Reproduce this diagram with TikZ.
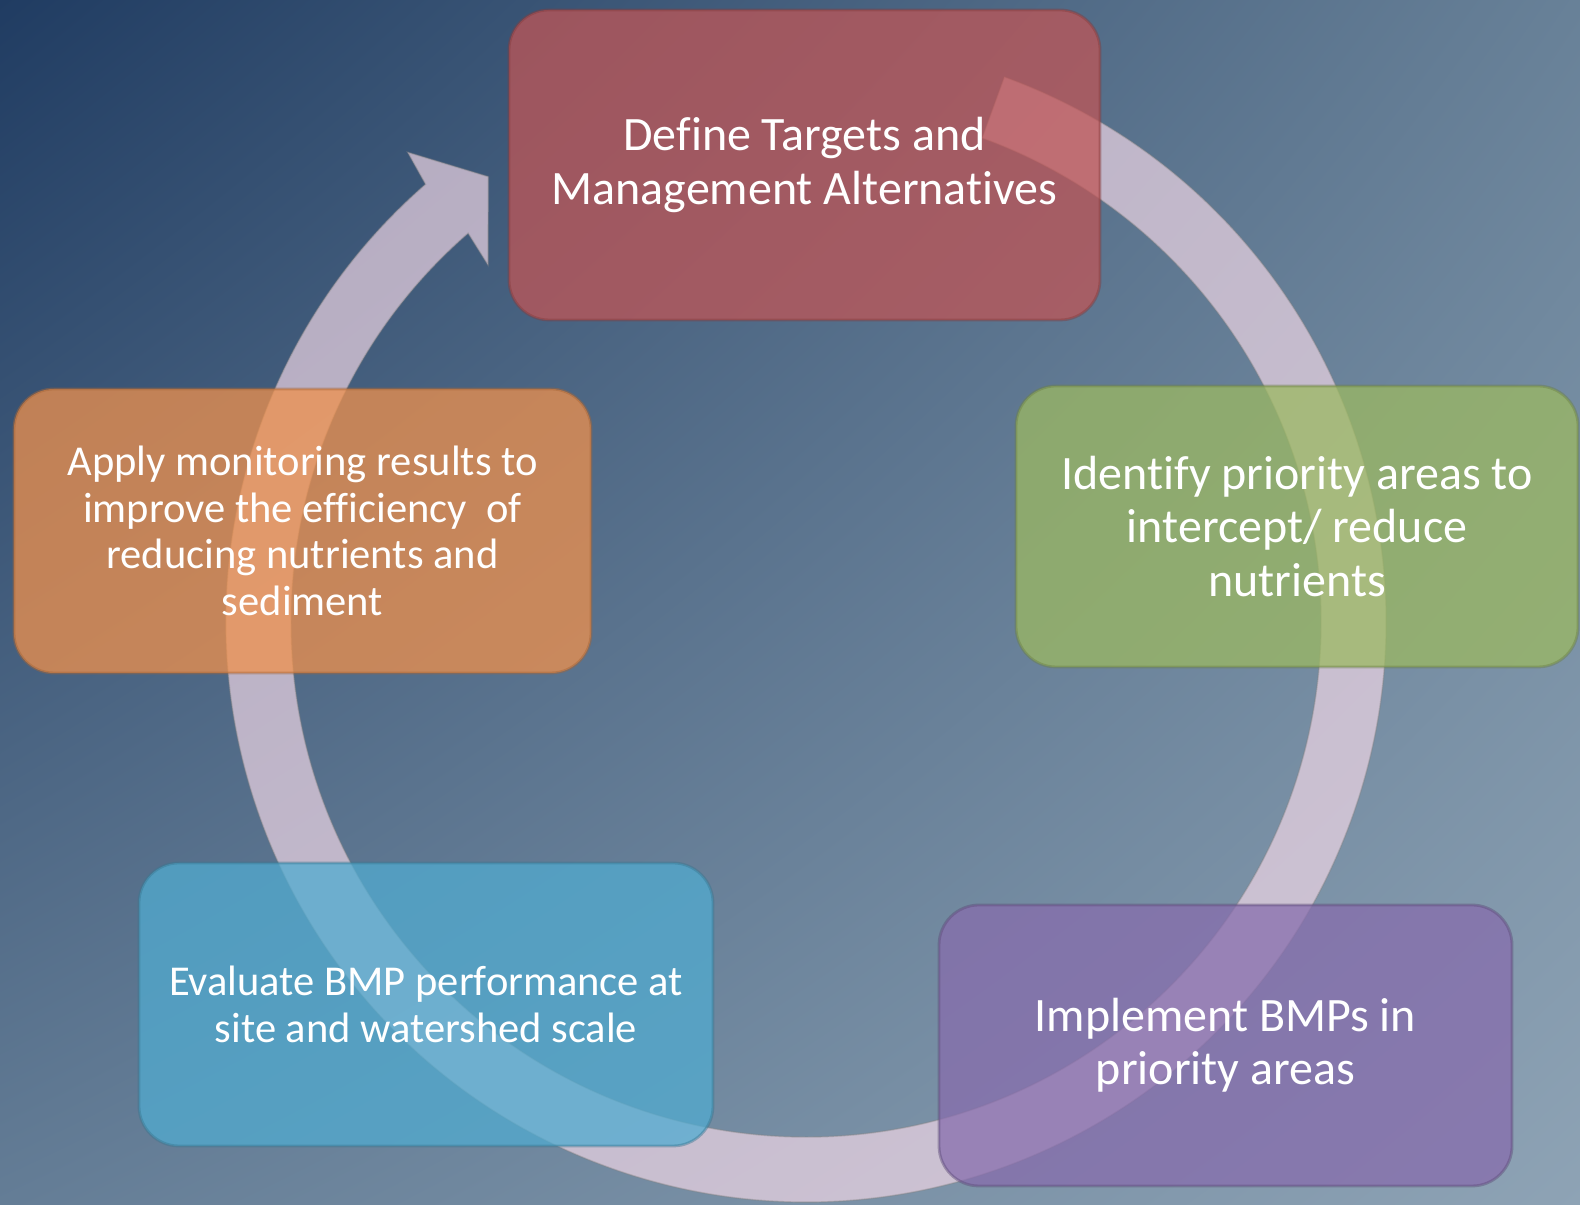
\documentclass[tikz,border=0pt]{standalone}
\usepackage{fontspec}
\setmainfont{Carlito}[Ligatures=NoCommon]
\usetikzlibrary{shadings}

\definecolor{bgtl}{RGB}{32,60,98}
\definecolor{bgtr}{RGB}{104,129,152}
\definecolor{bgbl}{RGB}{100,125,150}
\definecolor{bgbr}{RGB}{142,163,181}
\definecolor{ringc}{RGB}{242,216,231}
\definecolor{redbox}{RGB}{191,86,87}
\definecolor{greenbox}{RGB}{156,185,98}
\definecolor{orangebox}{RGB}{239,145,77}
\definecolor{bluebox}{RGB}{81,171,208}
\definecolor{purplebox}{RGB}{135,109,173}

\begin{document}
\begin{tikzpicture}[
    stage/.style={rounded corners=0.4cm, fill opacity=0.75, draw opacity=0.45,
      text opacity=1, text=white, align=center, inner sep=0pt, line width=0.8pt,
      font=\fontsize{13.65}{15.2}\selectfont},
    smalltext/.style={font=\fontsize{12.1}{13.3}\selectfont},
    ring/.style={fill=ringc, fill opacity=0.68, draw=gray, draw opacity=0.4, line width=0.4pt}
  ]

      \shade[upper left=bgtl, upper right=bgtr, lower left=bgbl, lower right=bgbr]
        (0,0) rectangle (15.8,12.05);
      \useasboundingbox (0,0) rectangle (15.8,12.05);

      % cycle arrow
      \filldraw[ring, shift={(8.06,5.83)}] (70:5.8) arc[start angle=70, end angle=-229, radius=5.8]
        -- (130.3:6.16) -- (125.5:5.47) -- (131.7:4.78)
        -- (131:5.15) arc[start angle=131, end angle=430, radius=5.15] -- cycle;

      \node[stage, fill=redbox, draw=redbox!70!black, minimum width=5.91cm, minimum height=3.10cm]
        (define) at (8.045,10.40) {Define Targets and\\Management Alternatives};
      \node[stage, fill=greenbox, draw=greenbox!70!black, minimum width=5.62cm, minimum height=2.81cm]
        (identify) at (12.97,6.785) {Identify priority areas to\\intercept/ reduce\\nutrients};
      \node[stage, fill=purplebox, draw=purplebox!70!black, minimum width=5.73cm, minimum height=2.81cm]
        (implement) at (12.255,1.595) {Implement BMPs in\\priority areas};
      \node[stage, smalltext, fill=bluebox, draw=bluebox!70!black, minimum width=5.74cm, minimum height=2.83cm]
        (evaluate) at (4.26,2.005) {Evaluate BMP performance at\\site and watershed scale};
      \node[stage, smalltext, fill=orangebox, draw=orangebox!70!black, minimum width=5.77cm, minimum height=2.84cm]
        (apply) at (3.025,6.74) {Apply monitoring results to\\improve the efficiency~ of\\reducing nutrients and\\sediment};

\end{tikzpicture}
\end{document}
